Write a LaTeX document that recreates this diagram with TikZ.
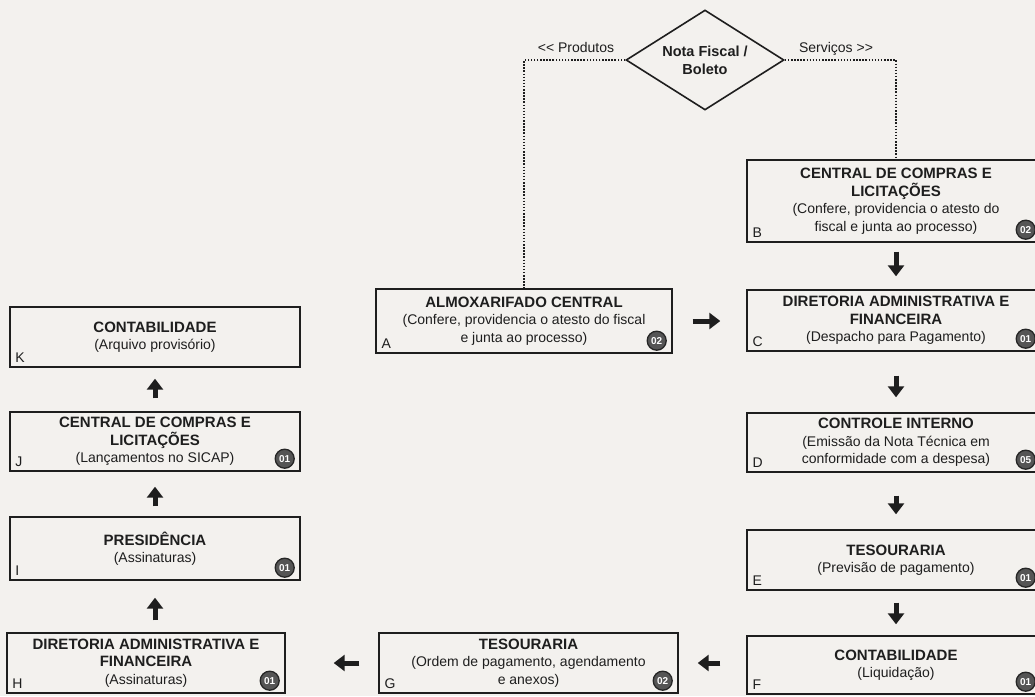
\documentclass[tikz,border=0pt]{standalone}
\usepackage{fontspec}
\setmainfont{Liberation Sans}
\usetikzlibrary{shapes.geometric,arrows.meta}

\definecolor{paper}{HTML}{F3F1EE}
\definecolor{ink}{HTML}{1E1E1E}
\definecolor{badgefill}{HTML}{555555}

% bold heading line inside a step box
\newcommand{\hd}[1]{{\fontsize{15}{17.5}\selectfont\bfseries #1}}
% two separate angle brackets (no guillemet ligature)
\newcommand{\dbl}[1]{#1\kern0pt#1}

\tikzset{
  stepbox/.style={draw=ink, line width=1.4pt, rectangle, inner sep=0pt,
    align=center, text=ink, font=\fontsize{14}{17.5}\selectfont},
  corner/.style={anchor=base west, text=ink, inner sep=0pt,
    font=\fontsize{14}{16}\selectfont},
  badge/.style={circle, fill=badgefill, draw=black!85, line width=1.3pt,
    minimum size=19pt, inner sep=0pt, text=white,
    font=\fontsize{10}{10}\selectfont\bfseries},
  bigarrow/.style={draw=ink, line width=5pt, -{Triangle[width=16pt,length=11pt]}},
  dots/.style={draw=ink, line width=1.6pt, dash pattern=on 1.5pt off 1.6pt},
  side/.style={anchor=base, text=ink, inner sep=0pt, font=\fontsize{14}{16}\selectfont},
}

\begin{document}
\begin{tikzpicture}[x=1pt, y=-1pt]
  \useasboundingbox (0,0) rectangle (1035,696);
  \clip (0,0) rectangle (1035,696);
  \fill[paper] (0,0) rectangle (1035,696);

  % decision diamond
  \node[diamond, draw=ink, line width=1.6pt, aspect=1.58, minimum width=158pt,
        minimum height=100pt, inner sep=0pt, align=center, text=ink,
        font=\fontsize{14.5}{18}\selectfont\bfseries] (nf) at (705,60)
        {Nota Fiscal /\\Boleto};
  \node[side] (prod) at (576,52) {\dbl{<} Produtos};
  \node[side] (serv) at (836,52) {Serviços \dbl{>}};

  % step boxes
  \node[stepbox, minimum width=296pt, minimum height=64pt] (A) at (524,321)
    {\hd{ALMOXARIFADO CENTRAL}\\(Confere, providencia o atesto do fiscal\\e junta ao processo)};
  \node[stepbox, minimum width=298pt, minimum height=82pt] (B) at (896,201)
    {\hd{CENTRAL DE COMPRAS E}\\\hd{LICITAÇÕES}\\(Confere, providencia o atesto do\\fiscal e junta ao processo)};
  \node[stepbox, minimum width=298pt, minimum height=61pt] (C) at (896,320.5)
    {\hd{DIRETORIA ADMINISTRATIVA E}\\\hd{FINANCEIRA}\\(Despacho para Pagamento)};
  \node[stepbox, minimum width=298pt, minimum height=59pt] (D) at (896,442.5)
    {\hd{CONTROLE INTERNO}\\(Emissão da Nota Técnica em\\conformidade com a despesa)};
  \node[stepbox, minimum width=298pt, minimum height=60pt] (E) at (896,560)
    {\hd{TESOURARIA}\\(Previsão de pagamento)};
  \node[stepbox, minimum width=298pt, minimum height=58pt] (F) at (896,665)
    {\hd{CONTABILIDADE}\\(Liquidação)};
  \node[stepbox, minimum width=299pt, minimum height=60pt] (G) at (528.5,663)
    {\hd{TESOURARIA}\\(Ordem de pagamento, agendamento\\e anexos)};
  \node[stepbox, minimum width=278pt, minimum height=60pt] (H) at (146,663)
    {\hd{DIRETORIA ADMINISTRATIVA E}\\\hd{FINANCEIRA}\\(Assinaturas)};
  \node[stepbox, minimum width=290pt, minimum height=63pt] (I) at (155,548.5)
    {\hd{PRESIDÊNCIA}\\(Assinaturas)};
  \node[stepbox, minimum width=290pt, minimum height=59pt] (J) at (155,441.5)
    {\hd{CENTRAL DE COMPRAS E}\\\hd{LICITAÇÕES}\\(Lançamentos no SICAP)};
  \node[stepbox, minimum width=290pt, minimum height=60pt] (K) at (155,337)
    {\hd{CONTABILIDADE}\\(Arquivo provisório)};

  % corner letters and count badges
  \foreach \b/\n in {A/02,G/02,H/01,I/01,J/01} {
    \node[corner] (l\b) at ([shift={(6,-5)}]\b.south west) {\b};
    \node[badge] (n\b) at ([shift={(-16,-13)}]\b.south east) {\n};
  }
  \foreach \b/\n in {B/02,C/01,D/05,E/01,F/01} {
    \node[corner] (l\b) at ([shift={(6,-5)}]\b.south west) {\b};
    \node[badge] (n\b) at ([shift={(-20,-13)}]\b.south east) {\n};
  }
  \node[corner] (lK) at ([shift={(6,-5)}]K.south west) {K};

  % dotted branches from the diamond
  \draw[dots] (nf.west) -| (A.north);
  \draw[dots] (nf.east) -| (B.north);

  % flow arrows
  \draw[bigarrow, shorten <=20pt, shorten >=26pt] (A.east) -- (C.west |- A.east);
  \draw[bigarrow, shorten <=9pt, shorten >=13pt] (B.south) -- (C.north);
  \draw[bigarrow, shorten <=24pt, shorten >=15pt] (C.south) -- (D.north);
  \draw[bigarrow, shorten <=23pt, shorten >=15pt] (D.south) -- (E.north);
  \draw[bigarrow, shorten <=12pt, shorten >=11pt] (E.south) -- (F.north);
  \draw[bigarrow, shorten <=26pt, shorten >=19pt] (F.west |- G.east) -- (G.east);
  \draw[bigarrow, shorten <=19pt, shorten >=48pt] (G.west) -- (H.east);
  \draw[bigarrow, shorten <=12pt, shorten >=17pt] (I.south |- H.north) -- (I.south);
  \draw[bigarrow, shorten <=10pt, shorten >=15pt] (I.north) -- (J.south);
  \draw[bigarrow, shorten <=13pt, shorten >=11pt] (J.north) -- (K.south);
\end{tikzpicture}
\end{document}
